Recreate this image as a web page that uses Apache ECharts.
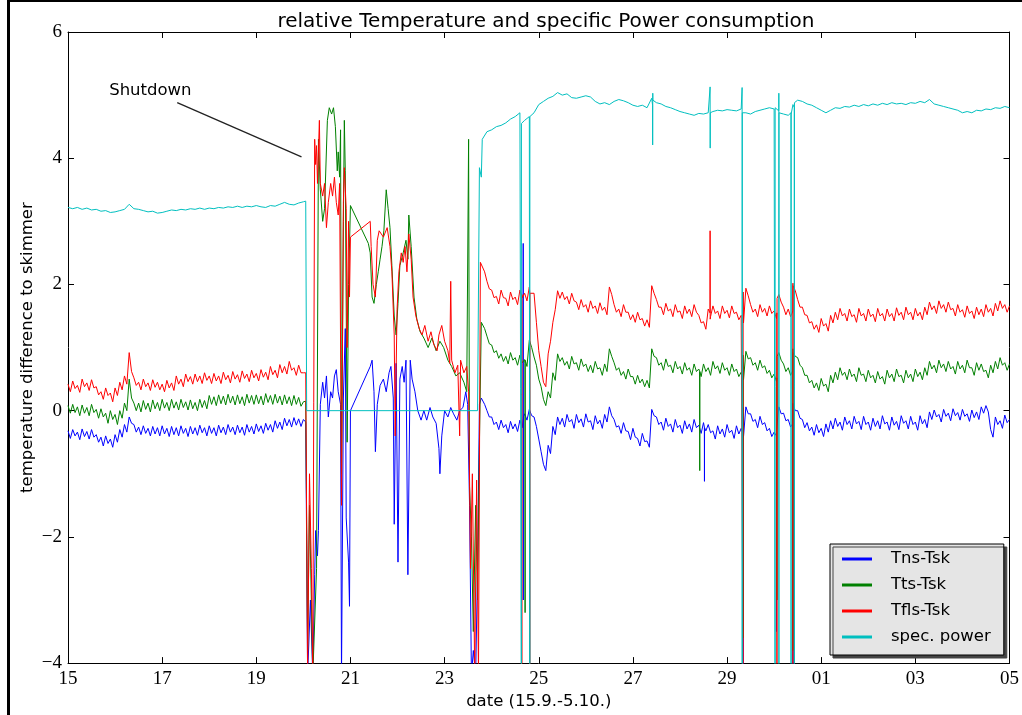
<!DOCTYPE html>
<html>
<head>
<meta charset="utf-8">
<script src="https://cdn.jsdelivr.net/npm/echarts@6/dist/echarts.min.js"></script>
<style>
html,body{margin:0;padding:0;background:#fff;}
#c{width:1022px;height:715px;}
</style>
</head>
<body>
<div id="c"></div>
<script>
// x = days since 15.9. 00:00
const tickLabels = ['15','17','19','21','23','25','27','29','01','03','05'];
const seriesNames = ['Tns-Tsk','Tts-Tsk','Tfls-Tsk','spec. power'];

// before shutdown: temperatures every 0.05 day (day 0.0 .. 5.0), power every 0.1 day
const tnsPre = [-0.32,-0.44,-0.30,-0.40,-0.34,-0.46,-0.29,-0.41,-0.33,-0.45,
  -0.30,-0.42,-0.38,-0.50,-0.42,-0.56,-0.40,-0.52,-0.45,-0.58,
  -0.38,-0.50,-0.30,-0.42,-0.22,-0.34,-0.10,-0.20,-0.22,-0.34,
  -0.26,-0.38,-0.24,-0.36,-0.28,-0.40,-0.25,-0.37,-0.27,-0.40,
  -0.24,-0.37,-0.28,-0.41,-0.25,-0.38,-0.27,-0.40,-0.24,-0.36,
  -0.28,-0.41,-0.25,-0.37,-0.27,-0.39,-0.23,-0.35,-0.27,-0.40,
  -0.24,-0.36,-0.27,-0.40,-0.23,-0.35,-0.26,-0.38,-0.22,-0.34,
  -0.26,-0.38,-0.23,-0.35,-0.26,-0.39,-0.22,-0.34,-0.25,-0.37,
  -0.21,-0.33,-0.24,-0.36,-0.20,-0.31,-0.22,-0.34,-0.16,-0.28,
  -0.18,-0.30,-0.12,-0.24,-0.14,-0.26,-0.11,-0.23,-0.13,-0.25,-0.14];
const ttsPre = [0.08,-0.04,0.10,-0.03,0.06,-0.08,0.09,-0.04,0.05,-0.08,
  0.10,-0.03,0.02,-0.12,0.03,-0.10,-0.04,-0.20,0.00,-0.14,
  -0.06,-0.22,0.00,-0.12,0.12,0.00,0.50,0.20,0.12,0.00,
  0.12,-0.02,0.16,0.02,0.12,-0.02,0.17,0.03,0.13,0.00,
  0.18,0.04,0.13,0.00,0.18,0.04,0.14,0.01,0.18,0.05,
  0.14,0.01,0.17,0.03,0.13,0.00,0.18,0.05,0.16,0.03,
  0.24,0.10,0.22,0.08,0.25,0.11,0.23,0.09,0.26,0.12,
  0.23,0.09,0.25,0.11,0.22,0.08,0.26,0.12,0.24,0.10,
  0.25,0.11,0.23,0.09,0.27,0.13,0.24,0.10,0.26,0.12,
  0.23,0.09,0.25,0.11,0.22,0.08,0.24,0.10,0.21,0.07,0.14];
const tflsPre = [0.42,0.30,0.47,0.35,0.40,0.29,0.50,0.38,0.44,0.32,
  0.49,0.36,0.38,0.25,0.30,0.18,0.36,0.24,0.28,0.14,
  0.36,0.24,0.45,0.33,0.55,0.42,0.92,0.62,0.52,0.40,
  0.45,0.33,0.50,0.38,0.44,0.32,0.49,0.37,0.45,0.33,
  0.42,0.30,0.48,0.36,0.44,0.32,0.55,0.42,0.50,0.38,
  0.58,0.46,0.54,0.42,0.58,0.46,0.55,0.43,0.60,0.48,
  0.55,0.43,0.59,0.47,0.55,0.43,0.61,0.49,0.56,0.44,
  0.62,0.50,0.57,0.45,0.63,0.51,0.58,0.46,0.64,0.52,
  0.59,0.47,0.65,0.53,0.61,0.49,0.70,0.57,0.64,0.52,
  0.73,0.60,0.70,0.58,0.78,0.64,0.68,0.56,0.72,0.60,0.60];
const powPre = [3.22,3.20,3.22,3.19,3.21,3.18,3.19,3.16,3.17,3.14,
  3.15,3.17,3.19,3.27,3.20,3.19,3.17,3.15,3.16,3.13,
  3.14,3.16,3.18,3.17,3.19,3.18,3.20,3.19,3.21,3.19,
  3.21,3.20,3.22,3.21,3.23,3.22,3.24,3.22,3.24,3.23,
  3.25,3.23,3.22,3.25,3.24,3.27,3.30,3.27,3.26,3.29,3.31];

// shutdown period, [day, value]
const tnsChaos = [[5.05,-0.18],[5.09,-4.2],[5.15,-3.0],[5.20,-4.2],[5.24,-2.6],[5.26,-1.9],[5.30,-2.3],[5.32,-1.9],
  [5.36,0.1],[5.41,0.45],[5.45,0.2],[5.49,0.55],[5.53,-0.1],[5.58,0.3],[5.62,0.2],[5.66,0.55],[5.70,0.65],[5.74,0.3],
  [5.79,0.1],[5.81,-4.2],[5.85,0.2],[5.89,1.3],[5.91,-1.7],[5.96,-2.4],[5.98,-3.1],[6.00,0.0],[6.42,0.7],[6.46,0.8],
  [6.50,0.3],[6.53,-0.65],[6.57,0.1],[6.63,0.4],[6.70,0.5],[6.76,0.3],[6.82,0.6],[6.86,0.7],[6.91,0.2],[6.93,-1.8],
  [6.97,0.75],[7.01,-2.4],[7.05,0.5],[7.10,0.7],[7.14,0.45],[7.18,0.8],[7.22,-2.6],[7.27,0.8],[7.31,0.5],[7.37,0.3],
  [7.43,0.0],[7.50,-0.15],[7.56,0.0],[7.62,-0.15],[7.69,0.05],[7.75,-0.1],[7.82,-0.2],[7.88,-0.6],[7.90,-1.0],[7.94,-0.4],
  [8.00,0.0],[8.07,-0.1],[8.13,0.05],[8.19,-0.05],[8.26,-0.15],[8.32,0.0],[8.39,0.05],[8.45,0.3],[8.49,0.1],[8.53,-1.5],
  [8.57,-4.2],[8.61,-3.8],[8.66,-4.2],[8.70,-2.5],[8.74,0.1],[8.78,0.2]];
const ttsChaos = [[5.05,0.15],[5.09,-3.8],[5.13,-1.5],[5.20,-4.2],[5.28,-2.5],[5.32,4.3],[5.36,3.5],[5.41,3.0],[5.45,3.2],
  [5.51,4.6],[5.55,4.8],[5.60,4.7],[5.64,4.8],[5.68,4.5],[5.72,3.8],[5.74,4.1],[5.77,3.7],[5.79,4.45],[5.81,-1.0],
  [5.85,3.0],[5.87,4.6],[5.89,3.8],[5.93,-0.5],[5.96,2.0],[6.00,3.25],[6.38,2.65],[6.42,2.5],[6.46,1.8],[6.50,1.7],
  [6.55,2.0],[6.59,2.2],[6.63,2.4],[6.67,2.6],[6.71,2.85],[6.76,3.5],[6.80,3.2],[6.84,2.9],[6.88,2.3],[6.93,1.5],
  [6.97,1.2],[7.01,1.7],[7.05,2.3],[7.12,2.5],[7.18,2.7],[7.22,2.4],[7.24,3.1],[7.29,2.6],[7.35,1.8],[7.41,1.45],
  [7.48,1.25],[7.56,1.15],[7.65,1.0],[7.73,1.15],[7.82,0.95],[7.90,1.1],[7.98,1.0],[8.07,0.8],[8.15,0.7],[8.24,0.55],
  [8.32,0.6],[8.41,0.45],[8.47,0.3],[8.51,4.3],[8.53,-1.2],[8.57,-2.0],[8.61,-3.5],[8.66,-1.5],[8.70,-3.0],[8.74,-0.5],[8.78,1.4]];
const tflsChaos = [[5.05,0.60],[5.09,-4.2],[5.13,-1.0],[5.17,-2.5],[5.20,-4.2],[5.24,4.3],[5.26,3.9],[5.28,4.2],[5.30,3.6],
  [5.34,4.6],[5.36,3.6],[5.41,3.4],[5.45,3.6],[5.49,2.9],[5.53,3.3],[5.58,3.6],[5.62,3.4],[5.66,3.7],[5.70,3.3],
  [5.74,3.1],[5.77,3.6],[5.81,-1.5],[5.85,3.3],[5.87,3.85],[5.91,3.2],[5.93,1.0],[5.96,3.0],[5.98,1.8],[6.00,2.75],
  [6.42,3.0],[6.44,2.6],[6.48,2.0],[6.53,1.8],[6.57,2.7],[6.61,2.85],[6.70,2.75],[6.78,2.9],[6.84,2.6],[6.88,2.2],
  [6.93,1.2],[6.95,-0.4],[6.99,1.6],[7.03,2.2],[7.08,2.5],[7.12,2.35],[7.16,2.6],[7.20,2.2],[7.24,2.8],[7.29,2.4],
  [7.33,1.8],[7.39,1.5],[7.46,1.3],[7.52,1.2],[7.58,1.35],[7.65,1.1],[7.71,1.25],[7.77,1.05],[7.84,0.95],[7.88,1.2],
  [7.94,1.35],[8.00,1.1],[8.07,0.95],[8.11,0.75],[8.13,2.05],[8.15,0.8],[8.22,0.6],[8.28,0.72],[8.32,-0.4],[8.34,0.8],
  [8.41,0.6],[8.47,0.7],[8.51,0.3],[8.55,-2.5],[8.59,-1.0],[8.64,-4.2],[8.68,-1.1],[8.72,-4.2],[8.76,2.35]];
const powChaos = [[5.05,3.32],[5.07,0.0],[8.70,0.0],[8.74,3.85],[8.78,3.7]];

// after restart: temperatures every 0.05 day (day 8.8 .. 20.0), power every 0.1 day
const tnsPost = [0.22,0.10,0.00,-0.10,-0.10,-0.22,-0.18,-0.30,-0.15,-0.27,
  -0.22,-0.35,-0.17,-0.29,-0.21,-0.33,-0.15,-0.27,-0.05,-0.15,
  0.02,-0.08,-0.10,-0.25,-0.45,-0.65,-0.85,-0.95,-0.55,-0.68,
  -0.25,-0.38,-0.10,-0.22,-0.12,-0.26,-0.06,-0.18,-0.14,-0.28,
  -0.06,-0.19,-0.13,-0.26,-0.05,-0.18,-0.16,-0.30,-0.08,-0.21,
  -0.15,-0.28,-0.06,-0.18,0.06,-0.08,-0.14,-0.26,-0.24,-0.36,
  -0.19,-0.32,-0.33,-0.46,-0.28,-0.42,-0.44,-0.56,-0.36,-0.49,
  -0.48,-0.58,0.02,-0.08,-0.10,-0.22,-0.18,-0.31,-0.12,-0.25,
  -0.21,-0.34,-0.14,-0.27,-0.23,-0.36,-0.16,-0.29,-0.21,-0.34,
  -0.14,-0.27,-0.23,-0.36,-0.19,-0.32,-0.22,-0.35,-0.32,-0.45,
  -0.24,-0.37,-0.29,-0.42,-0.22,-0.35,-0.31,-0.44,-0.24,-0.37,
  -0.28,-0.41,0.06,-0.05,-0.05,-0.17,-0.14,-0.27,-0.09,-0.22,
  -0.19,-0.32,-0.28,-0.41,-0.34,-0.46,0.06,-0.05,-0.04,-0.16,
  -0.14,-0.26,0.12,0.00,0.00,-0.12,-0.14,-0.27,-0.19,-0.32,
  -0.26,-0.39,-0.22,-0.35,-0.28,-0.41,-0.21,-0.34,-0.16,-0.29,
  -0.12,-0.25,-0.18,-0.31,-0.10,-0.22,-0.16,-0.29,-0.09,-0.21,
  -0.17,-0.30,-0.09,-0.22,-0.18,-0.31,-0.12,-0.25,-0.16,-0.29,
  -0.08,-0.21,-0.18,-0.31,-0.10,-0.23,-0.17,-0.30,-0.08,-0.20,
  -0.16,-0.29,-0.09,-0.22,-0.18,-0.31,-0.08,-0.21,-0.14,-0.27,
  -0.02,-0.14,0.01,-0.10,-0.06,-0.18,0.02,-0.09,-0.04,-0.16,
  0.03,-0.08,-0.03,-0.15,0.02,-0.09,-0.05,-0.17,0.01,-0.11,
  -0.02,-0.14,0.06,-0.04,0.08,-0.02,-0.30,-0.42,-0.10,-0.22,
  -0.16,-0.28,-0.07,-0.19,-0.14];
const ttsPost = [1.42,1.30,1.18,1.06,1.04,0.92,0.95,0.83,0.90,0.78,
  0.86,0.74,0.92,0.80,0.84,0.72,0.88,0.76,0.81,0.70,
  1.12,1.00,0.85,0.72,0.50,0.38,0.18,0.08,0.30,0.20,
  0.60,0.48,0.90,0.78,0.84,0.72,0.78,0.66,0.86,0.74,
  0.76,0.64,0.82,0.70,0.74,0.62,0.72,0.60,0.78,0.66,
  0.68,0.56,0.74,0.62,0.98,0.86,0.76,0.64,0.68,0.56,
  0.62,0.50,0.66,0.54,0.54,0.42,0.56,0.44,0.50,0.38,
  0.48,0.36,0.98,0.86,0.84,0.72,0.76,0.64,0.82,0.70,
  0.72,0.60,0.78,0.66,0.70,0.58,0.76,0.64,0.68,0.56,
  0.74,0.62,0.66,0.54,0.74,0.62,0.68,0.56,0.78,0.66,
  0.71,0.59,0.76,0.64,0.68,0.56,0.74,0.62,0.66,0.54,
  0.61,0.49,0.94,0.82,0.84,0.72,0.76,0.64,0.80,0.68,
  0.71,0.59,0.64,0.52,0.58,0.46,0.92,0.80,0.74,0.62,
  0.68,0.56,0.98,0.86,0.84,0.72,0.68,0.56,0.56,0.44,
  0.48,0.36,0.44,0.32,0.51,0.39,0.42,0.30,0.56,0.44,
  0.61,0.49,0.68,0.56,0.61,0.49,0.66,0.54,0.58,0.46,
  0.68,0.56,0.58,0.46,0.64,0.52,0.56,0.44,0.62,0.50,
  0.54,0.42,0.64,0.52,0.58,0.46,0.66,0.54,0.56,0.44,
  0.64,0.52,0.58,0.46,0.66,0.54,0.61,0.49,0.68,0.56,
  0.78,0.66,0.72,0.60,0.80,0.68,0.74,0.62,0.78,0.66,
  0.70,0.58,0.78,0.66,0.72,0.60,0.80,0.68,0.68,0.56,
  0.76,0.64,0.74,0.62,0.64,0.52,0.72,0.60,0.78,0.66,
  0.84,0.72,0.76,0.64,0.74];
const tflsPost = [2.32,2.20,2.05,1.93,1.91,1.79,1.81,1.69,1.91,1.79,
  1.78,1.66,1.88,1.76,1.80,1.68,1.91,1.79,1.86,1.74,
  1.96,1.84,1.86,1.40,0.95,0.70,0.45,0.38,0.90,1.10,
  1.40,1.60,1.90,1.78,1.88,1.76,1.81,1.69,1.86,1.74,
  1.72,1.60,1.76,1.64,1.68,1.56,1.74,1.62,1.66,1.54,
  1.71,1.59,1.64,1.52,1.96,1.84,1.68,1.56,1.61,1.49,
  1.68,1.56,1.56,1.44,1.52,1.40,1.56,1.44,1.46,1.34,
  1.44,1.32,1.98,1.86,1.76,1.64,1.64,1.52,1.70,1.58,
  1.61,1.49,1.68,1.56,1.58,1.46,1.66,1.54,1.61,1.49,
  1.68,1.56,1.51,1.39,1.41,1.29,1.61,1.49,1.66,1.54,
  1.58,1.46,1.66,1.54,1.59,1.47,1.66,1.54,1.56,1.44,
  1.51,1.39,1.94,1.82,1.68,1.56,1.61,1.49,1.68,1.56,
  1.62,1.50,1.66,1.54,1.58,1.46,1.84,1.72,1.64,1.52,
  1.61,1.49,2.02,1.90,1.76,1.64,1.64,1.52,1.51,1.39,
  1.41,1.29,1.36,1.24,1.46,1.34,1.38,1.26,1.51,1.39,
  1.56,1.44,1.62,1.50,1.54,1.42,1.61,1.49,1.52,1.40,
  1.62,1.50,1.54,1.42,1.61,1.49,1.53,1.41,1.62,1.50,
  1.54,1.42,1.61,1.49,1.54,1.42,1.63,1.51,1.56,1.44,
  1.64,1.52,1.56,1.44,1.62,1.50,1.56,1.44,1.64,1.52,
  1.72,1.60,1.66,1.54,1.74,1.62,1.68,1.56,1.72,1.60,
  1.62,1.50,1.68,1.56,1.60,1.48,1.66,1.54,1.58,1.46,
  1.64,1.52,1.61,1.49,1.68,1.56,1.62,1.50,1.70,1.58,
  1.74,1.62,1.68,1.56,1.66];
const powPost = [4.30,4.42,4.45,4.50,4.52,4.56,4.62,4.66,4.72,4.60,
  4.66,4.72,4.85,4.90,4.95,4.98,5.04,5.00,5.02,4.96,
  4.95,4.97,4.99,4.97,4.90,4.86,4.88,4.85,4.90,4.93,
  4.91,4.88,4.84,4.82,4.84,4.80,4.95,4.88,4.86,4.82,
  4.80,4.77,4.74,4.72,4.70,4.68,4.71,4.70,4.72,4.74,
  4.76,4.75,4.77,4.76,4.75,4.78,4.72,4.70,4.74,4.76,
  4.78,4.80,4.78,4.80,4.70,4.68,4.85,4.92,4.90,4.86,
  4.84,4.80,4.76,4.72,4.76,4.80,4.79,4.82,4.81,4.84,
  4.82,4.85,4.83,4.86,4.84,4.87,4.85,4.88,4.86,4.87,
  4.85,4.88,4.87,4.90,4.88,4.93,4.86,4.84,4.82,4.80,
  4.78,4.76,4.72,4.74,4.72,4.76,4.75,4.78,4.77,4.80,
  4.79,4.82,4.80];

// short disturbances after restart, [day, value]
const tnsSpikes = [[9.668,-0.12],[9.67,2.65],[9.672,-3.0],[9.674,-0.1],[13.518,-0.26],[13.52,-1.12],[13.522,-0.27],
  [14.338,-0.34],[14.34,-4.3],[14.342,0.05],[15.048,-0.4],[15.05,-3.5],[15.052,-0.3],[15.398,-0.2],[15.40,-4.3],[15.402,0.1]];
const ttsSpikes = [[9.708,0.75],[9.71,-3.2],[9.712,0.8],[13.418,0.62],[13.42,-0.95],[13.422,0.62],
  [14.338,0.56],[14.34,-3.6],[14.342,0.88],[15.058,0.52],[15.06,-3.0],[15.062,0.86],[15.398,0.64],[15.40,-3.8],[15.402,0.92]];
const tflsSpikes = [[9.638,1.82],[9.64,-4.3],[9.642,1.84],[9.808,1.88],[9.81,-4.3],[9.812,1.86],[13.638,1.55],[13.64,2.85],[13.642,1.45],
  [14.338,1.48],[14.34,-4.3],[14.342,1.88],[15.058,1.55],[15.06,-4.3],[15.062,1.78],[15.398,1.58],[15.40,-4.3],[15.402,1.98]];
const powSpikes = [[9.628,4.72],[9.63,-4.3],[9.632,4.55],[9.808,4.64],[9.81,-4.3],[9.812,4.66],
  [12.418,4.84],[12.42,4.21],[12.422,5.03],[12.424,4.92],[13.638,4.70],[13.64,5.13],[13.642,4.16],[13.644,4.72],
  [14.318,4.76],[14.32,5.12],[14.322,-4.3],[14.324,4.72],[15.018,4.79],[15.02,-4.3],[15.022,4.8],
  [15.098,4.75],[15.1,5.03],[15.102,-4.3],[15.104,4.72],[15.358,4.72],[15.36,-4.3],[15.362,4.7],[15.428,4.8],[15.43,-4.3],[15.432,4.88]];

const annotationText = 'Shutdown';
const annotationTextAt = [1.75, 5.07];
const annotationFrom = [2.32, 4.88];
const annotationTo = [4.96, 4.02];

const PRE_T0 = 0, POST_T0 = 8.8;
function sampled(t0, step, vals){ return vals.map((v,i)=>[Math.round((t0+i*step)*1000)/1000, v]); }
function build(step, pre, chaos, post, spikes){
  return sampled(PRE_T0, step, pre).concat(chaos, sampled(POST_T0, step, post), spikes).sort((a,b)=>a[0]-b[0]);
}
const colors = ['#0000ff','#008000','#ff0000','#00bfbf'];
const dataSets = [
  build(0.05, tnsPre, tnsChaos, tnsPost, tnsSpikes),
  build(0.05, ttsPre, ttsChaos, ttsPost, ttsSpikes),
  build(0.05, tflsPre, tflsChaos, tflsPost, tflsSpikes),
  build(0.1, powPre, powChaos, powPost, powSpikes)
];

const SANS = 'DejaVu Sans';
const SERIF = 'Liberation Serif';
const chart = echarts.init(document.getElementById('c'), null, {renderer:'canvas'});

const series = dataSets.map((d,i)=>({
  name: seriesNames[i], type:'line', data:d, showSymbol:false, symbol:'none',
  lineStyle:{color:colors[i], width:1}, itemStyle:{color:colors[i]},
  clip:true, animation:false, sampling:null, z: 2+i
}));
series[3].markLine = {
  silent:true, animation:false, symbol:['none','arrow'], symbolSize:[0,9],
  lineStyle:{color:'#222', width:1.3, type:'solid'}, label:{show:false},
  data:[[{coord:annotationFrom},{coord:annotationTo}]]
};
series[3].markPoint = {
  silent:true, animation:false,
  data:[{coord:annotationTextAt, symbol:'circle', symbolSize:1, itemStyle:{color:'rgba(0,0,0,0)'},
    label:{show:true, position:'inside', formatter:annotationText, color:'#000', fontSize:16.5, fontFamily:SANS}}]
};

const axisLineStyle = {show:true, onZero:false, lineStyle:{color:'#000', width:1}};
const tickStyle = {show:true, inside:true, length:6, lineStyle:{color:'#000', width:1}};
chart.setOption({
  animation:false,
  backgroundColor:'#fff',
  title:{text:'relative Temperature and specific Power consumption', left:541, textAlign:'center', top:7,
    textStyle:{fontFamily:SANS, fontSize:20, fontWeight:'normal', color:'#000'}},
  grid:{left:68, right:7, top:32, bottom:51, containLabel:false},
  legend:{
    data:seriesNames, orient:'vertical', left:830, top:544,
    backgroundColor:'#e5e5e5', borderColor:'#000', borderWidth:1,
    shadowColor:'#444', shadowOffsetX:3, shadowOffsetY:3, shadowBlur:0,
    padding:[6,13,9,12], itemGap:8, itemWidth:30, itemHeight:3, icon:'rect',
    textStyle:{fontFamily:SANS, fontSize:16.5, color:'#000', lineHeight:18, padding:[0,0,0,14]}
  },
  xAxis:[{
    type:'value', min:0, max:20, interval:2, position:'bottom',
    name:'date (15.9.-5.10.)', nameLocation:'middle', nameGap:28,
    nameTextStyle:{fontFamily:SANS, fontSize:16.5, color:'#000'},
    axisLine:axisLineStyle, axisTick:tickStyle, splitLine:{show:false},
    axisLabel:{margin:6, fontFamily:SERIF, fontSize:19, color:'#000',
      formatter:v=>tickLabels[Math.round(v/2)]}
  },{
    type:'value', min:0, max:20, interval:2, position:'top',
    axisLine:axisLineStyle, axisTick:tickStyle, splitLine:{show:false}, axisLabel:{show:false}
  }],
  yAxis:[{
    type:'value', min:-4, max:6, interval:2, position:'left',
    name:'temperature difference to skimmer', nameLocation:'middle', nameGap:32, nameMoveOverlap:false,
    nameTextStyle:{fontFamily:SANS, fontSize:16.5, color:'#000'},
    axisLine:axisLineStyle, axisTick:tickStyle, splitLine:{show:false},
    axisLabel:{margin:6, fontFamily:SERIF, fontSize:19, color:'#000',
      formatter:v=>(v<0?'\u2212'+Math.abs(v):String(v))}
  },{
    type:'value', min:-4, max:6, interval:2, position:'right',
    axisLine:axisLineStyle, axisTick:tickStyle, splitLine:{show:false}, axisLabel:{show:false}
  }],
  graphic:[
    {type:'rect', shape:{x:8, y:0, width:1040, height:2}, style:{fill:'#000'}, silent:true},
    {type:'rect', shape:{x:7, y:0, width:3, height:720}, style:{fill:'#000'}, silent:true}
  ],
  series: series
});
</script>
</body>
</html>
